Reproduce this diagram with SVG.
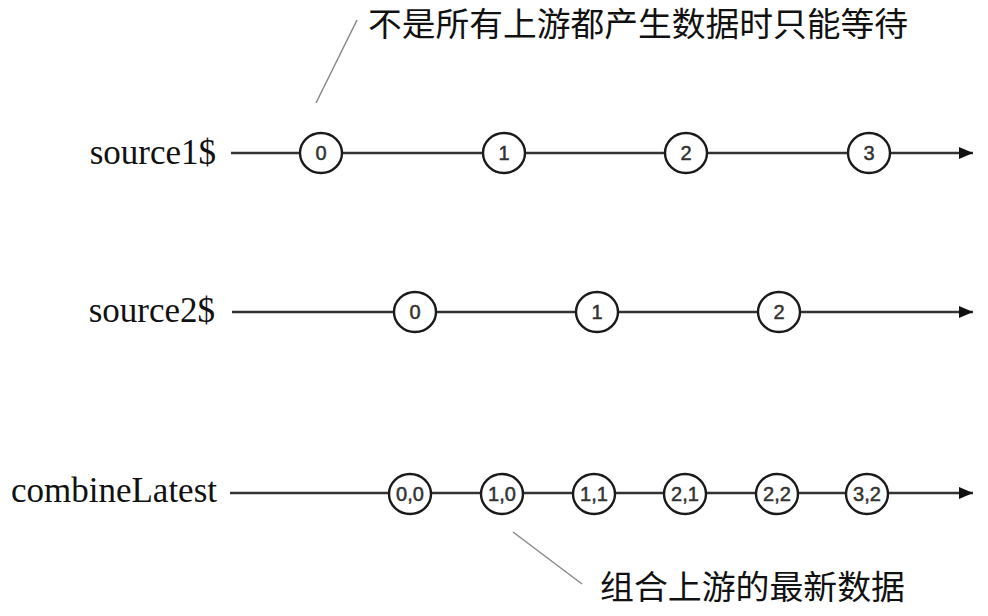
<svg xmlns="http://www.w3.org/2000/svg" width="988" height="616" viewBox="0 0 988 616">
<style>
.lbl{font-family:"Liberation Serif","Noto Sans CJK SC",serif;font-size:35px;fill:#111;text-anchor:end}
.note{font-family:"Liberation Serif","Noto Sans CJK SC",serif;font-size:33px;fill:#111}
.tl{stroke:#333;stroke-width:2.5;fill:none}
.ev ellipse{fill:#fff;stroke:#1a1a1a;stroke-width:2.4}
.ev text{font-family:"Liberation Sans",Arial,sans-serif;font-size:20px;fill:#333;stroke:#333;stroke-width:0.5;text-anchor:middle;dominant-baseline:central}
.lead{stroke:#888;stroke-width:1.5}
</style>
<defs>
<marker id="arr" markerWidth="16" markerHeight="14" refX="14" refY="7" orient="auto" markerUnits="userSpaceOnUse">
<path d="M0,1 L14,7 L0,13 Z" fill="#111"/>
</marker>
</defs>
<g id="labels">
<text class="lbl" x="216" y="164">source1$</text>
<text class="lbl" x="215" y="322">source2$</text>
<text class="lbl" x="217" y="502">combineLatest</text>
</g>
<g id="connectors">
<line class="tl" x1="231" y1="153" x2="973" y2="153" marker-end="url(#arr)"/>
<line class="tl" x1="232" y1="312" x2="973" y2="312" marker-end="url(#arr)"/>
<line class="tl" x1="230" y1="493" x2="973" y2="493" marker-end="url(#arr)"/>
<line class="lead" x1="316" y1="103" x2="357" y2="20"/>
<line class="lead" x1="513" y1="532" x2="582" y2="584"/>
</g>
<g id="s1-0" class="ev"><ellipse cx="321" cy="153" rx="21" ry="20"/><text x="321" y="153">0</text></g>
<g id="s1-1" class="ev"><ellipse cx="504" cy="153" rx="21" ry="20"/><text x="504" y="153">1</text></g>
<g id="s1-2" class="ev"><ellipse cx="686" cy="153" rx="21" ry="20"/><text x="686" y="153">2</text></g>
<g id="s1-3" class="ev"><ellipse cx="869" cy="153" rx="21" ry="20"/><text x="869" y="153">3</text></g>
<g id="s2-0" class="ev"><ellipse cx="415" cy="312" rx="21" ry="20"/><text x="415" y="312">0</text></g>
<g id="s2-1" class="ev"><ellipse cx="597" cy="312" rx="21" ry="20"/><text x="597" y="312">1</text></g>
<g id="s2-2" class="ev"><ellipse cx="779" cy="312" rx="21" ry="20"/><text x="779" y="312">2</text></g>
<g id="c-00" class="ev"><ellipse cx="410" cy="494" rx="21" ry="20"/><text x="410" y="494">0,0</text></g>
<g id="c-10" class="ev"><ellipse cx="502" cy="494" rx="21" ry="20"/><text x="502" y="494">1,0</text></g>
<g id="c-11" class="ev"><ellipse cx="594" cy="494" rx="21" ry="20"/><text x="594" y="494">1,1</text></g>
<g id="c-21" class="ev"><ellipse cx="685" cy="494" rx="21" ry="20"/><text x="685" y="494">2,1</text></g>
<g id="c-22" class="ev"><ellipse cx="777" cy="494" rx="21" ry="20"/><text x="777" y="494">2,2</text></g>
<g id="c-32" class="ev"><ellipse cx="867" cy="494" rx="21" ry="20"/><text x="867" y="494">3,2</text></g>
<g id="notes">
<text class="note" x="368" y="36" textLength="540" lengthAdjust="spacingAndGlyphs">不是所有上游都产生数据时只能等待</text>
<text class="note" x="600" y="599" textLength="305" lengthAdjust="spacingAndGlyphs">组合上游的最新数据</text>
</g>
</svg>
